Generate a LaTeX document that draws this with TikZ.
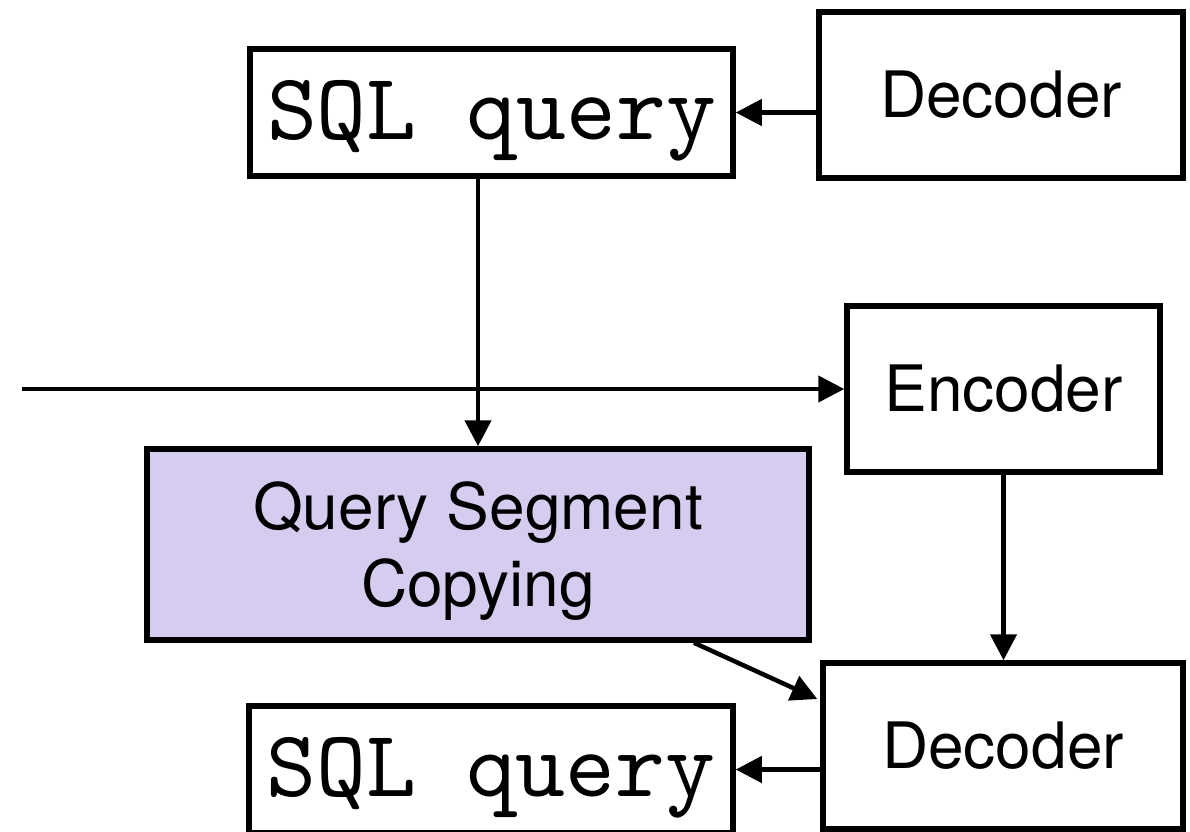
\documentclass[tikz,border=0pt]{standalone}
\usepackage{fontspec}
\setsansfont{TeX Gyre Heros}
\IfFontExistsTF{lmmono10-regular.otf}
  {\newfontfamily\codefont{lmmono10-regular.otf}}
  {\newfontfamily\codefont{Latin Modern Mono}}
\usetikzlibrary{arrows.meta,calc}
\definecolor{qscfill}{RGB}{213,204,240}
\begin{document}
\begin{tikzpicture}[x=1pt,y=-1pt,
  box/.style={draw=black,line width=5.5pt,rectangle,inner sep=0pt,align=center},
  sanslbl/.style={font=\sffamily\fontsize{64}{77}\selectfont},
  ttlbl/.style={font=\codefont\fontsize{95}{100}\selectfont,text height=53pt,text depth=0pt},
  arr/.style={line width=4.5pt,-{Triangle[length=26pt,width=26pt]}},
]
\useasboundingbox (0,0) rectangle (1190,831);
\node[box,ttlbl,minimum width=483pt,minimum height=127pt] (sqlA) at (491.5,112.5) {SQL query};
\node[box,sanslbl,minimum width=364pt,minimum height=166pt] (decA) at (1001,95) {Decoder};
\node[box,sanslbl,minimum width=313pt,minimum height=166pt] (enc) at (1003.5,389) {Encoder};
\node[box,sanslbl,fill=qscfill,text depth=0pt,minimum width=662pt,minimum height=191pt] (qsc) at (478,544.5) {Query Segment\\Copying};
\node[box,sanslbl,minimum width=360pt,minimum height=166pt] (decB) at (1003,746) {Decoder};
\node[box,ttlbl,minimum width=484pt,minimum height=127pt] (sqlB) at (491,769.5) {SQL query};
\coordinate (in) at (22,389);
\draw[arr] (sqlA.east -| decA.west) -- (sqlA.east);
\draw[arr] (sqlA.south -| qsc.north) -- (qsc.north);
\draw[arr] (in) -- (enc.west);
\draw[arr] (enc.south) -- (enc.south |- decB.north);
\draw[arr] ([xshift=216pt]qsc.south) -- ([xshift=-3pt,yshift=47pt]decB.west);
\draw[arr] (sqlB.east -| decB.west) -- (sqlB.east);
\end{tikzpicture}
\end{document}
